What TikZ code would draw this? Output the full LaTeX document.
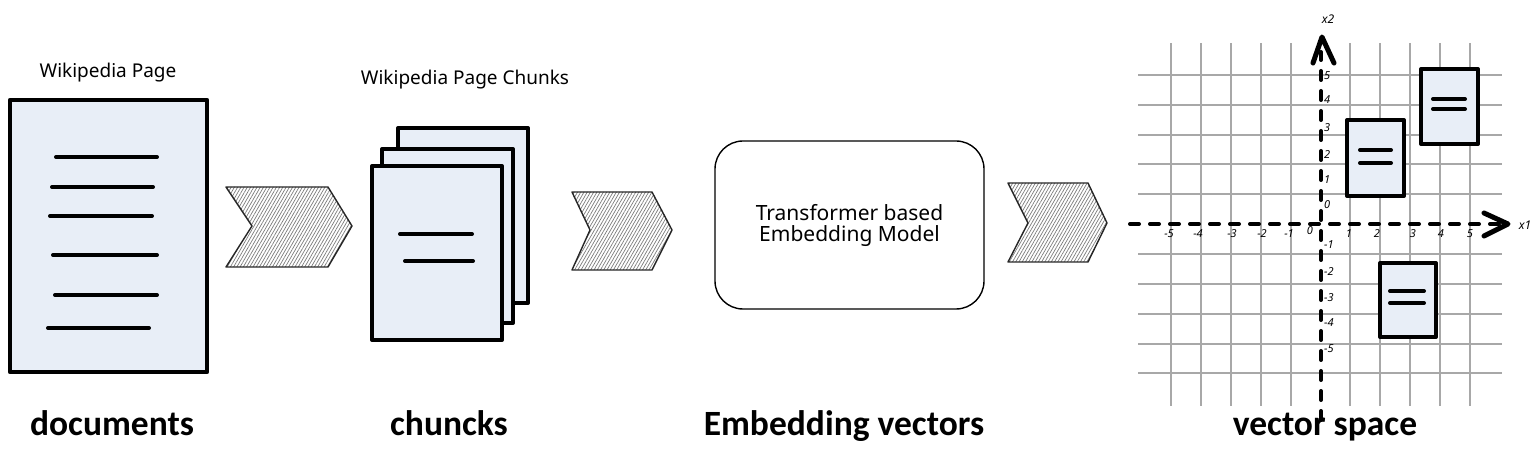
\documentclass[tikz,border=0pt]{standalone}
\usepackage{fontspec}
\setmainfont{Carlito}
\newfontfamily\hand{Noto Sans}
\usetikzlibrary{patterns.meta}
\definecolor{pagefill}{HTML}{E8EEF7}
\definecolor{gridgray}{HTML}{A8A8A8}
\definecolor{hatchgray}{HTML}{7A7A7A}
\tikzset{
  page/.style={draw=black, line width=4.5pt, fill=pagefill, line join=round, inner sep=0pt},
  txtline/.style={line width=4pt, line cap=round},
  chevron/.style={draw=black!85, line width=1.4pt, line join=round,
    pattern={Lines[angle=60,distance=2.8pt,line width=0.7pt]}, pattern color=hatchgray},
  biglabel/.style={font=\fontsize{35.5}{40}\selectfont\bfseries, anchor=base, inner sep=0pt},
  handlabel/.style={font=\hand\fontsize{19}{22}\selectfont, inner sep=0pt},
  gridline/.style={draw=gridgray, line width=1.1pt},
  axisline/.style={line width=4pt, dash pattern=on 9pt off 11pt, line cap=round},
  axishead/.style={line width=5pt, line cap=round, line join=round},
  tick/.style={font=\hand\fontsize{11}{12}\selectfont\itshape, inner sep=0pt},
  model/.style={draw=black, line width=1.4pt, rounded corners=28pt, minimum width=269pt, minimum height=168pt, align=center,
    font=\hand\fontsize{21}{21}\selectfont}
}
\begin{document}
\begin{tikzpicture}[x=1pt,y=-1pt]
\useasboundingbox (0,0) rectangle (1540,470);
% ---------- documents ----------
\node[handlabel] (wpl) at (108,73) {Wikipedia Page};
\node[page, minimum width=197pt, minimum height=272pt] (doc) at (108.5,236) {};
\foreach \xa/\xb/\yy [count=\i] in {56/157/157, 52/153/187, 50/152/216, 53/157/255, 55/157/295, 48/149/328}{
  \coordinate (dl\i a) at (\xa,\yy); \coordinate (dl\i b) at (\xb,\yy);
  \draw[txtline] (dl\i a) -- (dl\i b);
}
\node[biglabel] (lab1) at (112,435) {documents};
% chevron 1
\draw[chevron] (226,187) coordinate (c1a) -- (328,187) -- (352,226) -- (328,267) -- (226,267) -- (252,226) -- cycle;
% ---------- chunks ----------
\node[handlabel] (wcl) at (465,80) {Wikipedia Page Chunks};
\node[page, line width=4pt, minimum width=130pt, minimum height=175pt] (ch3) at (463,215.5) {};
\node[page, line width=4pt, minimum width=131pt, minimum height=174pt] (ch2) at (447.5,236) {};
\node[page, line width=4pt, minimum width=130pt, minimum height=174pt] (ch1) at (437,253) {};
\coordinate (cl1a) at (400,234); \coordinate (cl1b) at (472,234);
\coordinate (cl2a) at (405,261); \coordinate (cl2b) at (473,261);
\draw[txtline] (cl1a) -- (cl1b);
\draw[txtline] (cl2a) -- (cl2b);
\node[biglabel] (lab2) at (449,435) {chuncks};
% chevron 2
\draw[chevron] (572,192) -- (652,192) -- (672,230) -- (652,270) -- (572,270) -- (590,230) -- cycle;
% ---------- model ----------
\node[model] (mod) at (849.5,225) {Transformer based\\Embedding Model};
\node[biglabel] (lab3) at (844,435) {Embedding vectors};
% chevron 3
\draw[chevron] (1008,183) -- (1088,183) -- (1107,223) -- (1088,262) -- (1008,262) -- (1028,223) -- cycle;
% ---------- vector space ----------
\foreach \yy in {75,105,135,164,194,254,284,314,344,373}{
  \draw[gridline] (1138,\yy) -- (1502,\yy);
}
\foreach \xx in {1171,1201,1231,1261,1291,1350,1380,1410,1440,1470}{
  \draw[gridline] (\xx,43) -- (\xx,406);
}
\coordinate (xs) at (1130,224); \coordinate (xe) at (1500,224);
\coordinate (ys) at (1321,420); \coordinate (ye) at (1321,52);
\draw[axisline] (xs) -- (xe);
\draw[axisline] (ys) -- (ye);
\draw[axishead] (1484,213) -- (1508,224) -- (1484,236);
\draw[axishead] (1313,63) -- (1322,37) -- (1334,63);
\node[tick, font=\hand\fontsize{12}{12}\selectfont\itshape] (x1) at (1525,225) {x1};
\node[tick, font=\hand\fontsize{12}{12}\selectfont\itshape] (x2) at (1328,19) {x2};
\foreach \v/\xx in {-5/1169,-4/1198,-3/1232,-2/1262,-1/1289,1/1349,2/1377,3/1413,4/1441,5/1470}{
  \node[tick] at (\xx,234) {\v};
}
\node[tick] (o1) at (1310,231) {0};
\foreach \v/\yy in {5/76,4/100,3/128,2/155,1/180,0/205,-1/245,-2/272,-3/298,-4/323,-5/349}{
  \node[tick, anchor=west] at (1324,\yy) {\v};
}
\node[page, line width=4pt, minimum width=57pt, minimum height=76pt] (va) at (1375.5,158) {};
\draw[txtline] (1360,150) coordinate (va1) -- (1391,150);
\draw[txtline] (1360,163) coordinate (va2) -- (1391,163);
\node[page, line width=4pt, minimum width=57pt, minimum height=75pt] (vb) at (1449.5,106.5) {};
\draw[txtline] (1433,99) -- (1465,99);
\draw[txtline] (1433,109) -- (1465,109);
\node[page, line width=4pt, minimum width=56pt, minimum height=74pt] (vc) at (1408,300) {};
\draw[txtline] (1390,291) -- (1424,291);
\draw[txtline] (1390,303) -- (1424,303);
\node[biglabel] (lab4) at (1325,435) {vector space};
\end{tikzpicture}
\end{document}
